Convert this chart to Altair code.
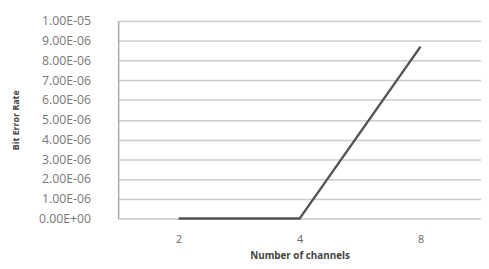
import altair as alt
import pandas as pd

channels = ["2", "4", "8"]
ber = [0.0, 0.0, 8.7e-6]
y_ticks = [i * 1e-6 for i in range(11)]
y_tick_labels = ["0.00E+00", "1.00E-06", "2.00E-06", "3.00E-06", "4.00E-06",
                 "5.00E-06", "6.00E-06", "7.00E-06", "8.00E-06", "9.00E-06", "1.00E-05"]

df = pd.DataFrame({"channels": channels, "ber": ber})

label_expr = "[" + ",".join(f"'{s}'" for s in y_tick_labels) + "][round(datum.value*1e6)]"

chart = alt.Chart(df).mark_line(color="#555555", strokeWidth=2.5).encode(
    x=alt.X("channels:N", sort=channels, title="Number of channels",
            scale=alt.Scale(paddingInner=0, paddingOuter=0.5),
            axis=alt.Axis(labelAngle=0, ticks=False, domain=False, grid=False,
                          labelPadding=15, titlePadding=7,
                          labelFont="Open Sans", labelFontSize=11, labelColor="#666666",
                          titleFont="Open Sans", titleFontSize=10, titleFontWeight="bold",
                          titleColor="#444444")),
    y=alt.Y("ber:Q", title="Bit Error Rate",
            scale=alt.Scale(domain=[0, 1e-5], nice=False),
            axis=alt.Axis(values=y_ticks, labelExpr=label_expr, ticks=False,
                          domain=True, domainColor="#aaaaaa", domainWidth=1.5,
                          gridColor="#cccccc", gridWidth=1.5,
                          labelPadding=28, titlePadding=18,
                          labelFont="Open Sans", labelFontSize=12.5, labelColor="#777777",
                          titleFont="Open Sans", titleFontSize=9, titleFontWeight="bold",
                          titleColor="#444444")),
).properties(width=369, height=201, padding={"left": 3, "top": 5, "right": 0, "bottom": 0}
).configure_view(stroke=None).configure(background="white")

chart.save("out.html", embed_options={"renderer": "svg", "actions": False})
